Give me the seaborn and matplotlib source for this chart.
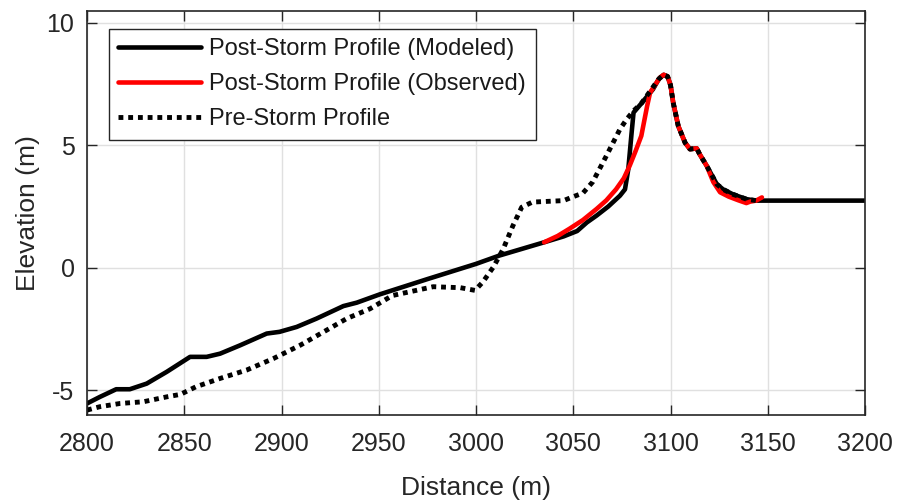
import matplotlib
matplotlib.use("Agg")
import matplotlib.pyplot as plt
import seaborn as sns
import pandas as pd

# ---- data ----
modeled_x = [2800, 2806.7, 2815, 2822, 2830.7, 2841, 2853, 2861.5, 2868.4, 2878.7, 2892.4,
             2899, 2907.8, 2918, 2931.8, 2938.7, 2950.6, 2975, 3000, 3012, 3035, 3045, 3052,
             3057, 3062, 3068, 3074, 3076.6, 3078.3, 3080, 3081, 3085, 3091, 3094, 3096.5,
             3098.5, 3100, 3101.4, 3104, 3107.5, 3110, 3113.5, 3115, 3118.6, 3123.8, 3127,
             3132, 3139, 3144, 3200]
modeled_y = [-5.53, -5.26, -4.95, -4.95, -4.72, -4.24, -3.63, -3.63, -3.5, -3.16, -2.68,
             -2.61, -2.41, -2.07, -1.56, -1.42, -1.08, -0.46, 0.16, 0.5, 1.04, 1.28, 1.5,
             1.85, 2.13, 2.5, 2.94, 3.2, 4.02, 5.5, 6.33, 6.7, 7.28, 7.7, 7.87,
             7.8, 7.45, 6.73, 5.78, 5.1, 4.84, 4.87, 4.63, 4.16, 3.41, 3.2,
             3.0, 2.8, 2.74, 2.74]

observed_x = [3035, 3042, 3048, 3055, 3062, 3067, 3072, 3076, 3079, 3082, 3085, 3088, 3089.5,
              3092, 3094.6, 3096.5, 3098.5, 3100, 3101.4, 3104, 3107.5, 3110, 3113.5, 3115,
              3118.6, 3122, 3125.5, 3130, 3135, 3139, 3141, 3144, 3147]
observed_y = [1.04, 1.3, 1.59, 1.95, 2.4, 2.75, 3.2, 3.65, 4.16, 4.75, 5.38, 6.6, 7.14,
              7.45, 7.76, 7.87, 7.8, 7.45, 6.73, 5.78, 5.1, 4.84, 4.87, 4.63,
              4.16, 3.5, 3.08, 2.9, 2.75, 2.64, 2.7, 2.74, 2.87]

prestorm_x = [2800, 2806.7, 2817, 2829, 2841, 2848, 2856, 2868.4, 2882, 2895.8, 2909.5, 2923,
              2933.5, 2945.5, 2957, 2978, 2992, 2999.5, 3003.6, 3009, 3014, 3019, 3023.5,
              3029, 3045, 3050, 3055, 3060, 3067, 3074, 3077.5, 3081, 3085, 3089.5, 3094,
              3096.5, 3098.5, 3100, 3101.4, 3104, 3107.5, 3110, 3113.5, 3115, 3118.6, 3123.8,
              3127, 3132, 3139, 3144]
prestorm_y = [-5.8, -5.66, -5.53, -5.46, -5.26, -5.16, -4.85, -4.51, -4.17, -3.7, -3.16, -2.55,
              -2.07, -1.67, -1.13, -0.77, -0.81, -0.92, -0.57, 0.04, 0.77, 1.72, 2.47,
              2.68, 2.74, 2.9, 3.05, 3.5, 4.56, 5.65, 6.06, 6.4, 6.7, 7.2, 7.7,
              7.87, 7.8, 7.45, 6.73, 5.78, 5.1, 4.84, 4.87, 4.63, 4.16, 3.41,
              3.2, 3.0, 2.8, 2.74]

labels = ["Post-Storm Profile (Modeled)", "Post-Storm Profile (Observed)", "Pre-Storm Profile"]
x_ticks = [2800, 2850, 2900, 2950, 3000, 3050, 3100, 3150, 3200]
y_ticks = [-5, 0, 5, 10]

# ---- style ----
sns.set_style("ticks")
plt.rcParams['font.family'] = ['Liberation Sans', 'DejaVu Sans']
plt.rcParams['axes.unicode_minus'] = False

fig = plt.figure(figsize=(8.98, 5.0), dpi=100)
ax = fig.add_axes([87/898, 1 - 415/500, (865-87)/898, (415-11)/500])

dfm = pd.DataFrame({"x": modeled_x, "y": modeled_y})
dfo = pd.DataFrame({"x": observed_x, "y": observed_y})
dfp = pd.DataFrame({"x": prestorm_x, "y": prestorm_y})

sns.lineplot(data=dfm, x="x", y="y", ax=ax, sort=False, estimator=None,
             color="black", lw=3.3, label=labels[0])
sns.lineplot(data=dfo, x="x", y="y", ax=ax, sort=False, estimator=None,
             color="#ff0000", lw=3.3, label=labels[1])
sns.lineplot(data=dfp, x="x", y="y", ax=ax, sort=False, estimator=None,
             color="black", lw=3.5, label=labels[2])
ln = ax.get_lines()[-1]
ln.set_dashes((1, 1))
ln.set_dash_capstyle("butt")

ax.set_xlim(2800, 3200)
ax.set_ylim(-6, 10.47)
ax.set_xticks(x_ticks)
ax.set_yticks(y_ticks)
ax.grid(True, color="#e0e0e0", lw=1.0)
ax.set_axisbelow(True)

axis_col = "#262626"
for s in ax.spines.values():
    s.set_color(axis_col)
    s.set_linewidth(1.2)
    s.set_visible(True)
ax.tick_params(direction="in", length=7, width=1.0, color=axis_col,
               top=True, right=True, labelsize=18, labelcolor=axis_col)
ax.tick_params(axis="x", pad=12)
ax.tick_params(axis="y", pad=9)

ax.set_xlabel("Distance (m)", fontsize=19, color=axis_col, labelpad=15)
ax.set_ylabel("Elevation (m)", fontsize=19, color=axis_col, labelpad=5)

leg = ax.legend(loc="upper left", bbox_to_anchor=(109/898, 1 - 29/500),
                bbox_transform=fig.transFigure, borderaxespad=0,
                fontsize=17, frameon=True, fancybox=False, framealpha=1,
                edgecolor=axis_col, handlelength=3.5, handletextpad=0.35,
                borderpad=0.4, labelspacing=0.55)
leg.get_frame().set_linewidth(1.0)
for t in leg.get_texts():
    t.set_color("#1a1a1a")
hl = leg.get_lines()
hl[2].set_dashes((1, 1))
hl[2].set_dash_capstyle("butt")

fig.savefig("out.png", dpi=100)
